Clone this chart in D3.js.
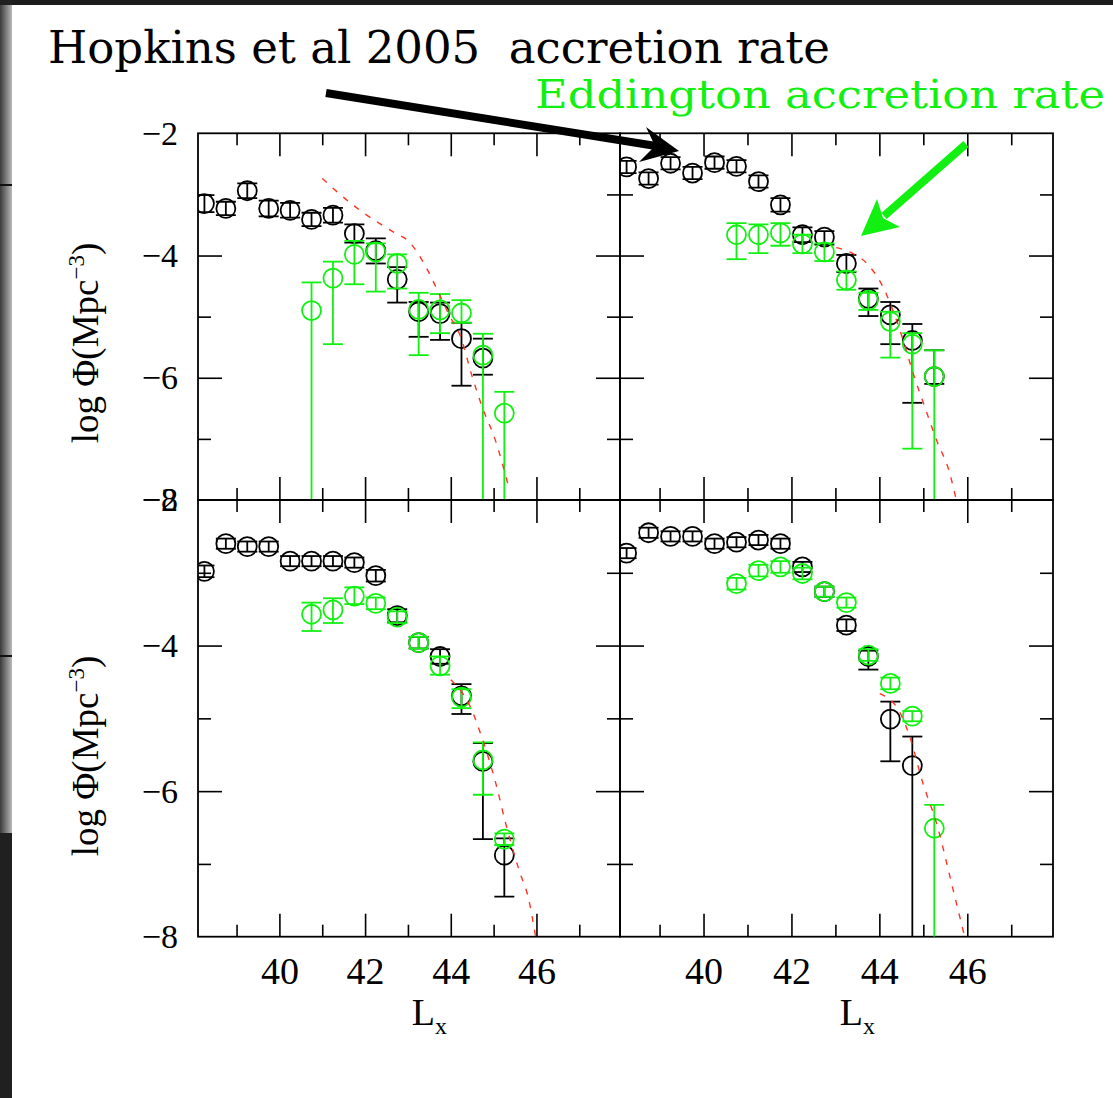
<!DOCTYPE html>
<html><head><meta charset="utf-8">
<script src="https://cdn.jsdelivr.net/npm/d3@7"></script>
<style>html,body{margin:0;padding:0;background:#fff;overflow:hidden}svg{display:block}</style>
</head><body>
<svg id="c" width="1113" height="1098"></svg>
<script>
// ---------------- data ----------------
const lxBlack = [38.25,38.75,39.25,39.75,40.25,40.75,41.25,41.75,42.25,42.75,43.25,43.75,44.25,44.75,45.25];
const lxGreen = [40.75,41.25,41.75,42.25,42.75,43.25,43.75,44.25,44.75,45.25];

// top-left panel
const tlBlack   = [-3.15,-3.23,-2.94,-3.23,-3.26,-3.41,-3.34,-3.64,-3.92,-4.39,-4.92,-4.95,-5.36,-5.68];
const tlBlackHi = [-3.01,-3.12,-2.82,-3.10,-3.14,-3.30,-3.22,-3.49,-3.72,-4.19,-4.76,-4.77,-5.10,-5.36];
const tlBlackLo = [-3.29,-3.34,-3.06,-3.36,-3.38,-3.52,-3.46,-3.79,-4.13,-4.77,-5.33,-5.38,-6.13,-5.95];
const tlGreen   = [-4.90,-4.37,-3.98,-3.94,-4.13,-4.88,-4.89,-4.94,-5.63,-6.58];
const tlGreenHi = [-4.44,-4.10,-3.76,-3.80,-3.98,-4.61,-4.63,-4.73,-5.28,-6.23];
const tlGreenLo = [-8.00,-5.45,-4.47,-4.59,-4.54,-5.63,-5.27,-5.10,-8.00,-8.00];
const tlModelX  = [41.0,41.71,42.72,42.99,43.46,43.69,43.96,44.23,44.5,44.73,45.04,45.35];
const tlModelY  = [-2.74,-3.17,-3.64,-3.75,-4.24,-4.57,-4.97,-5.33,-5.98,-6.47,-7.02,-7.78];

// top-right panel
const trBlack   = [-2.55,-2.74,-2.49,-2.65,-2.48,-2.54,-2.79,-3.17,-3.66,-3.70,-4.13,-4.70,-4.97,-5.39,-5.98];
const trBlackHi = [-2.45,-2.64,-2.39,-2.55,-2.38,-2.44,-2.69,-3.06,-3.54,-3.60,-3.99,-4.54,-4.76,-5.12,-5.55];
const trBlackLo = [-2.65,-2.84,-2.59,-2.75,-2.58,-2.64,-2.89,-3.28,-3.78,-3.82,-4.27,-4.99,-5.45,-6.41,-6.10];
const trGreen   = [-3.66,-3.66,-3.63,-3.81,-3.94,-4.40,-4.73,-5.08,-5.45,-5.98];
const trGreenHi = [-3.47,-3.49,-3.47,-3.66,-3.80,-4.26,-4.61,-4.92,-5.27,-5.55];
const trGreenLo = [-4.06,-3.96,-3.84,-3.96,-4.09,-4.56,-4.89,-5.67,-7.16,-8.00];
const trModelX  = [43.02,43.32,43.78,44.08,44.39,44.54,44.77,45.03,45.3,45.6,45.75];
const trModelY  = [-3.87,-3.94,-4.18,-4.51,-5.06,-5.38,-5.93,-6.47,-7.02,-7.56,-8.0];

// bottom-left panel
const blBlack   = [-2.98,-2.60,-2.64,-2.64,-2.84,-2.84,-2.84,-2.86,-3.04,-3.59,-3.96,-4.15,-4.69,-5.59,-6.88];
const blBlackHi = [-2.90,-2.53,-2.57,-2.57,-2.77,-2.77,-2.77,-2.79,-2.96,-3.50,-3.88,-4.05,-4.53,-5.34,-6.65];
const blBlackLo = [-3.06,-2.67,-2.71,-2.71,-2.91,-2.91,-2.91,-2.93,-3.12,-3.68,-4.04,-4.25,-4.94,-6.66,-7.45];
const blGreen   = [-3.57,-3.51,-3.32,-3.42,-3.61,-3.96,-4.28,-4.71,-5.57,-6.66];
const blGreenHi = [-3.41,-3.35,-3.20,-3.34,-3.53,-3.88,-4.15,-4.60,-5.33,-6.58];
const blGreenLo = [-3.80,-3.69,-3.43,-3.50,-3.69,-4.04,-4.40,-4.86,-6.05,-6.74];
const blModelX  = [44.0,44.47,44.73,45.05,45.28,45.59,45.82,45.98];
const blModelY  = [-4.47,-4.86,-5.27,-5.89,-6.44,-7.08,-7.49,-8.0];

// bottom-right panel
const brBlack   = [-2.73,-2.45,-2.50,-2.50,-2.60,-2.58,-2.55,-2.60,-2.92,-3.26,-3.72,-4.15,-5.01,-5.65];
const brBlackHi = [-2.66,-2.38,-2.43,-2.43,-2.53,-2.51,-2.48,-2.53,-2.85,-3.19,-3.64,-4.07,-4.77,-5.25];
const brBlackLo = [-2.80,-2.52,-2.57,-2.57,-2.67,-2.65,-2.62,-2.67,-2.99,-3.33,-3.80,-4.33,-5.59,-8.00];
const brGreen   = [-3.15,-2.97,-2.92,-3.01,-3.26,-3.41,-4.13,-4.52,-4.97,-6.51];
const brGreenHi = [-3.07,-2.89,-2.84,-2.93,-3.19,-3.34,-4.05,-4.44,-4.90,-6.19];
const brGreenLo = [-3.23,-3.05,-3.00,-3.09,-3.33,-3.48,-4.21,-4.60,-5.04,-8.00];
const brModelX  = [44.01,44.46,44.69,44.99,45.3,45.68,45.94];
const brModelY  = [-4.66,-4.91,-5.25,-5.89,-6.44,-7.36,-8.0];

const xDomain = [38.1, 47.95];
const yDomain = [-8, -2];
const xMajor = [40,42,44,46], xMinor = [39,41,43,45,47];
const yMajor = [-4,-6], yMinor = [-3,-5,-7];
const yLabelTicks = [-2,-4,-6,-8];
const xLabelTicks = [40,42,44,46];
const titleBlack = "Hopkins et al 2005\u00a0\u00a0accretion rate";
const titleGreen = "Eddington accretion rate";
const yTitle = "log \u03a6(Mpc";

// ---------------- drawing ----------------
const GREEN = "#12f012", RED = "#ff3322";
const svg = d3.select("#c");

// screenshot frame remnants
const defs = svg.append("defs");
const lg = defs.append("linearGradient").attr("id","edge").attr("x1",0).attr("x2",1).attr("y1",0).attr("y2",0);
lg.append("stop").attr("offset","0%").attr("stop-color","#3a3a3a");
lg.append("stop").attr("offset","100%").attr("stop-color","#b8b8b8");
svg.append("rect").attr("x",0).attr("y",0).attr("width",1113).attr("height",5).attr("fill","#1c1c1c");
svg.append("rect").attr("x",0).attr("y",0).attr("width",12).attr("height",1098).attr("fill","#202020");
svg.append("rect").attr("x",0).attr("y",5).attr("width",12).attr("height",828).attr("fill","url(#edge)");
svg.append("line").attr("x1",0).attr("x2",12).attr("y1",185).attr("y2",185).attr("stroke","#111").attr("stroke-width",2);
svg.append("line").attr("x1",0).attr("x2",12).attr("y1",656).attr("y2",656).attr("stroke","#111").attr("stroke-width",2);

const panels = [
  {id:"tl", x0:198, x1:620, y0:133.3, y1:500,
   black:tlBlack, blackHi:tlBlackHi, blackLo:tlBlackLo, green:tlGreen, greenHi:tlGreenHi, greenLo:tlGreenLo, mx:tlModelX, my:tlModelY, left:true, bottom:false},
  {id:"tr", x0:620, x1:1053, y0:133.3, y1:500,
   black:trBlack, blackHi:trBlackHi, blackLo:trBlackLo, green:trGreen, greenHi:trGreenHi, greenLo:trGreenLo, mx:trModelX, my:trModelY, left:false, bottom:false},
  {id:"bl", x0:198, x1:620, y0:500, y1:936.7,
   black:blBlack, blackHi:blBlackHi, blackLo:blBlackLo, green:blGreen, greenHi:blGreenHi, greenLo:blGreenLo, mx:blModelX, my:blModelY, left:true, bottom:true},
  {id:"br", x0:620, x1:1053, y0:500, y1:936.7,
   black:brBlack, blackHi:brBlackHi, blackLo:brBlackLo, green:brGreen, greenHi:brGreenHi, greenLo:brGreenLo, mx:brModelX, my:brModelY, left:false, bottom:true}
];

function styleAxis(g){ g.select(".domain").remove(); g.selectAll("line").attr("stroke","#000").attr("stroke-width",1.6); }

panels.forEach(p => {
  const x = d3.scaleLinear().domain(xDomain).range([p.x0, p.x1]);
  const y = d3.scaleLinear().domain(yDomain).range([p.y1, p.y0]);
  const g = svg.append("g");
  defs.append("clipPath").attr("id","clip-"+p.id).append("rect")
    .attr("x",p.x0).attr("y",p.y0).attr("width",p.x1-p.x0).attr("height",p.y1-p.y0);

  // ticks (inward on all four sides)
  [[xMajor,23],[xMinor,12]].forEach(([vals,len]) => {
    g.append("g").attr("transform",`translate(0,${p.y1})`)
      .call(d3.axisBottom(x).tickValues(vals).tickSize(-len).tickSizeOuter(0).tickFormat(""))
      .call(styleAxis);
    g.append("g").attr("transform",`translate(0,${p.y0})`)
      .call(d3.axisTop(x).tickValues(vals).tickSize(-len).tickSizeOuter(0).tickFormat(""))
      .call(styleAxis);
  });
  [[yMajor,24],[yMinor,13]].forEach(([vals,len]) => {
    g.append("g").attr("transform",`translate(${p.x0},0)`)
      .call(d3.axisLeft(y).tickValues(vals).tickSize(-len).tickSizeOuter(0).tickFormat(""))
      .call(styleAxis);
    g.append("g").attr("transform",`translate(${p.x1},0)`)
      .call(d3.axisRight(y).tickValues(vals).tickSize(-len).tickSizeOuter(0).tickFormat(""))
      .call(styleAxis);
  });

  // frame
  g.append("rect").attr("x",p.x0).attr("y",p.y0).attr("width",p.x1-p.x0).attr("height",p.y1-p.y0)
    .attr("fill","none").attr("stroke","#000").attr("stroke-width",1.8);

  // tick labels
  if (p.left) {
    const la = g.append("g").attr("transform",`translate(${p.x0},0)`)
      .call(d3.axisLeft(y).tickValues(yLabelTicks).tickSize(0).tickPadding(20).tickFormat(d3.format("d")));
    la.select(".domain").remove();
    la.attr("font-family","'Liberation Serif', 'Times New Roman', serif").attr("font-size",34);
    la.selectAll("text").attr("fill","#000");
    const cy = p.bottom ? 756 : 343;
    const t = g.append("text").attr("transform",`translate(98,${cy}) rotate(-90)`)
      .attr("text-anchor","middle").attr("font-family","'Liberation Serif', serif")
      .attr("font-size",37).attr("fill","#000");
    t.append("tspan").text(yTitle);
    t.append("tspan").attr("dy",-14).attr("font-size",23).text("\u22123");
    t.append("tspan").attr("dy",14).text(")");
  }
  if (p.bottom) {
    const ba = g.append("g").attr("transform",`translate(0,${p.y1})`)
      .call(d3.axisBottom(x).tickValues(xLabelTicks).tickSize(0).tickPadding(20).tickFormat(d3.format("d")));
    ba.select(".domain").remove();
    ba.attr("font-family","'Liberation Serif', 'Times New Roman', serif").attr("font-size",38);
    ba.selectAll("text").attr("fill","#000");
    const cx = x(43.5);
    const t = g.append("text").attr("x",cx).attr("y",1025).attr("text-anchor","middle")
      .attr("font-family","'Liberation Serif', serif").attr("font-size",38).attr("fill","#000");
    t.append("tspan").text("L");
    t.append("tspan").attr("dy",9).attr("font-size",24).text("x");
  }

  const data = g.append("g").attr("clip-path",`url(#clip-${p.id})`);
  const capW = 10, r = 9.5;

  function drawSeries(xs, vals, his, los, color){
    const s = data.append("g").attr("stroke",color).attr("fill","none").attr("stroke-width",1.8);
    vals.forEach((v,i) => {
      const cx = x(xs[i]);
      s.append("line").attr("x1",cx).attr("x2",cx).attr("y1",y(his[i])).attr("y2",y(los[i]));
      s.append("line").attr("x1",cx-capW).attr("x2",cx+capW).attr("y1",y(his[i])).attr("y2",y(his[i]));
      if (los[i] > -8) s.append("line").attr("x1",cx-capW).attr("x2",cx+capW).attr("y1",y(los[i])).attr("y2",y(los[i]));
      s.append("circle").attr("cx",cx).attr("cy",y(v)).attr("r",r);
    });
  }
  drawSeries(lxBlack, p.black, p.blackHi, p.blackLo, "#000");
  drawSeries(lxGreen, p.green, p.greenHi, p.greenLo, GREEN);

  const line = d3.line().x(d => x(d[0])).y(d => y(d[1])).curve(d3.curveMonotoneX);
  data.append("path").datum(p.mx.map((v,i)=>[v,p.my[i]]))
    .attr("d",line).attr("fill","none").attr("stroke",RED).attr("stroke-width",1.4)
    .attr("stroke-dasharray","6,8");
});

// annotations
svg.append("text").attr("x",48).attr("y",63).attr("font-family","'DejaVu Serif', serif")
  .style("font-stretch","condensed").attr("font-size",44).attr("fill","#000")
  .attr("textLength",782).attr("lengthAdjust","spacingAndGlyphs").text(titleBlack);
svg.append("text").attr("x",535).attr("y",108).attr("font-family","'DejaVu Serif', serif")
  .style("font-stretch","condensed").attr("font-size",40).attr("fill",GREEN)
  .attr("textLength",570).attr("lengthAdjust","spacingAndGlyphs").text(titleGreen);

// black arrow
svg.append("line").attr("x1",326).attr("y1",93).attr("x2",656).attr("y2",146)
  .attr("stroke","#000").attr("stroke-width",8);
svg.append("polygon").attr("points","679,151 646,127 655,146 639,162").attr("fill","#000");
// green arrow
svg.append("line").attr("x1",966).attr("y1",144).attr("x2",884).attr("y2",216)
  .attr("stroke",GREEN).attr("stroke-width",8);
svg.append("polygon").attr("points","861,236 877,199 883,218 900,227").attr("fill",GREEN);
</script>
</body></html>
